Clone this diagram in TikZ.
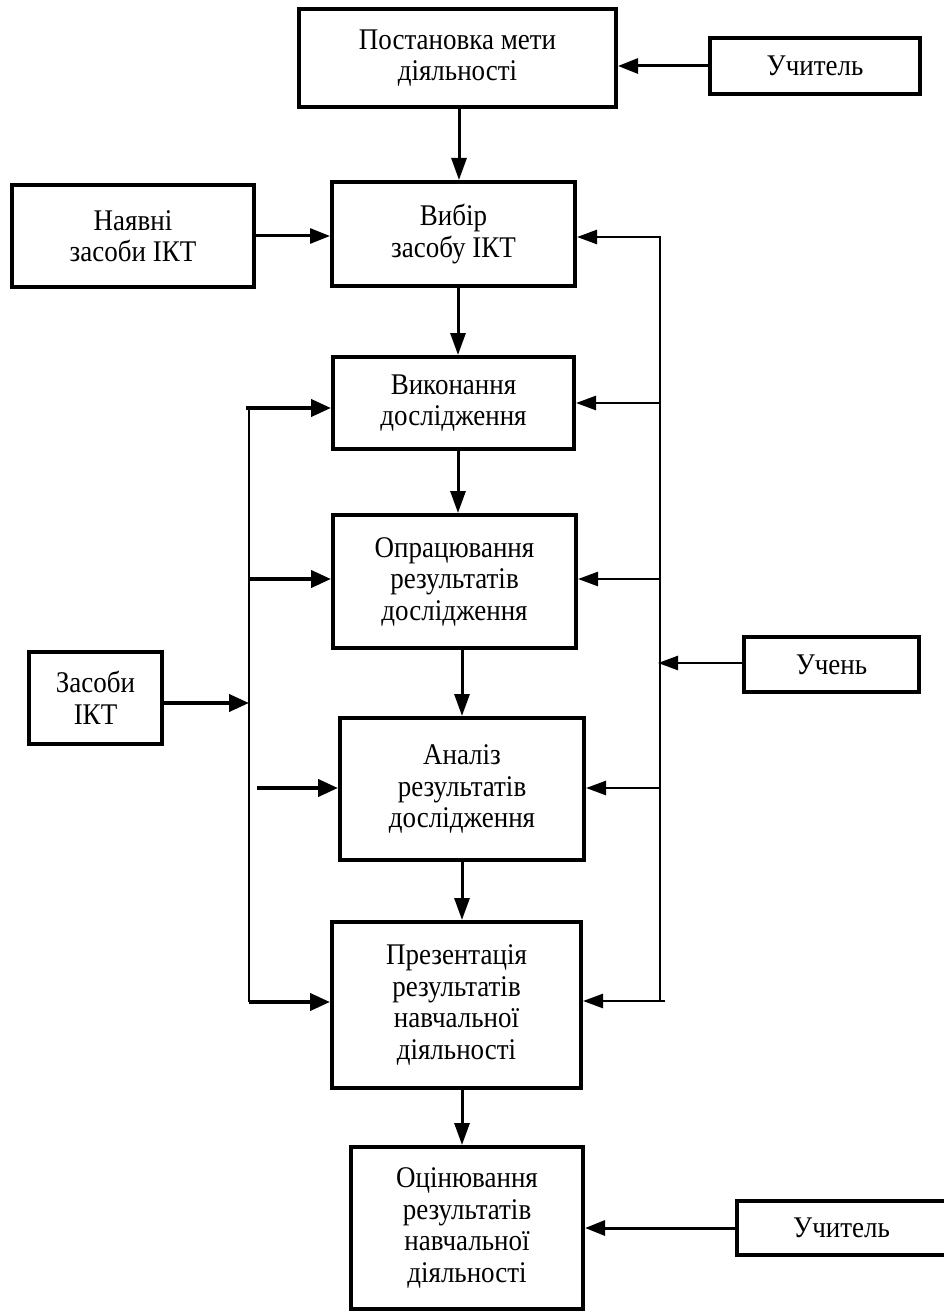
\documentclass[tikz,border=0pt]{standalone}
\usepackage{fontspec}
\setmainfont{Liberation Serif}[FakeStretch=0.9]
\usetikzlibrary{arrows.meta,calc}
\begin{document}
\begin{tikzpicture}[x=1pt,y=-1pt,
  box/.style={draw, line width=4pt, inner sep=0pt, align=center, font=\fontsize{30}{31.5}\selectfont},
  varrow/.style={line width=3pt, -{Triangle[length=22pt,width=15pt]}},
  harrow/.style={line width=3pt, -{Triangle[length=20pt,width=15pt]}},
  larrow/.style={line width=4pt, -{Triangle[length=20pt,width=17pt]}},
  rarrow/.style={line width=2.5pt, -{Triangle[length=20pt,width=14pt]}},
  vline/.style={line width=1.6pt}
]
\useasboundingbox (0,0) rectangle (943,1313);
% boxes
\node[box, minimum width=317pt, minimum height=98pt] (P1) at (457.5,58) {Постановка мети\\діяльності};
\node[box, minimum width=210pt, minimum height=56pt] (T1) at (815,66) {Учитель};
\node[box, minimum width=242pt, minimum height=102pt] (N) at (133,236) {Наявні\\засоби ІКТ};
\node[box, minimum width=243pt, minimum height=104pt] (B2) at (453.5,234) {Вибір\\засобу ІКТ};
\node[box, minimum width=241pt, minimum height=92pt] (B3) at (453.5,403) {Виконання\\дослідження};
\node[box, minimum width=243pt, minimum height=133pt] (B4) at (454.5,581.5) {Опрацювання\\результатів\\дослідження};
\node[box, minimum width=133pt, minimum height=92pt] (Z) at (95.5,698) {Засоби\\ІКТ};
\node[box, minimum width=175pt, minimum height=55pt] (U) at (831.5,664.5) {Учень};
\node[box, minimum width=244pt, minimum height=142pt] (B5) at (462,789) {Аналіз\\результатів\\дослідження};
\node[box, minimum width=249pt, minimum height=166pt] (B6) at (456.5,1005) {Презентація\\результатів\\навчальної\\діяльності};
\node[box, minimum width=232pt, minimum height=162pt] (B7) at (467,1228) {Оцінювання\\результатів\\навчальної\\діяльності};
\node[box, minimum width=209pt, minimum height=54pt] (T2) at (841.5,1228) {Учитель};
% top connectors
\draw[harrow] (T1.west) -- (T1.west -| P1.east);
\draw[varrow] ([xshift=1.5pt]P1.south) -- ([xshift=1.5pt]P1.south |- B2.north);
\draw[harrow] (N.east) -- (N.east -| B2.west);
% main column
\draw[varrow] ([xshift=4.5pt]B2.south) -- ([xshift=4.5pt]B2.south |- B3.north);
\draw[varrow] ([xshift=4.5pt]B3.south) -- ([xshift=4.5pt]B3.south |- B4.north);
\draw[varrow] ([xshift=7.5pt]B4.south) -- ([xshift=7.5pt]B4.south |- B5.north);
\draw[varrow] (B5.south) -- (B5.south |- B6.north);
\draw[varrow] ([xshift=5.5pt]B6.south) -- ([xshift=5.5pt]B6.south |- B7.north);
% left bus
\coordinate (Lt) at (249,408);
\coordinate (L2) at (249,579);
\coordinate (Lz) at (249,703);
\coordinate (L3) at (257,788);
\coordinate (Lb) at (249,1002);
\draw[vline] (Lt) -- (Lb);
\draw[larrow] ([xshift=-3pt]Lt) -- (Lt -| B3.west);
\draw[larrow] (L2) -- (L2 -| B4.west);
\draw[larrow] (L3) -- (L3 -| B5.west);
\draw[larrow] (Lb) -- (Lb -| B6.west);
\draw[larrow] (Z.east |- Lz) -- (Lz);
% right bus
\coordinate (Rt) at (660,237);
\coordinate (R2) at (660,403);
\coordinate (R3) at (660,579);
\coordinate (R4) at (660,788);
\coordinate (Rb) at (660,1001);
\coordinate (Ru) at (658,663);
\draw[vline] (Rt) -- (Rb);
\draw[rarrow] ([xshift=1pt]Rt) -- (Rt -| B2.east);
\draw[rarrow] (R2) -- (R2 -| B3.east);
\draw[rarrow] (R3) -- (R3 -| B4.east);
\draw[rarrow] (R4) -- (R4 -| B5.east);
\draw[rarrow] ([xshift=5pt]Rb) -- (Rb -| B6.east);
\draw[rarrow] (U.west |- Ru) -- (Ru);
% bottom
\draw[harrow] (T2.west) -- (T2.west -| B7.east);
\end{tikzpicture}
\end{document}
